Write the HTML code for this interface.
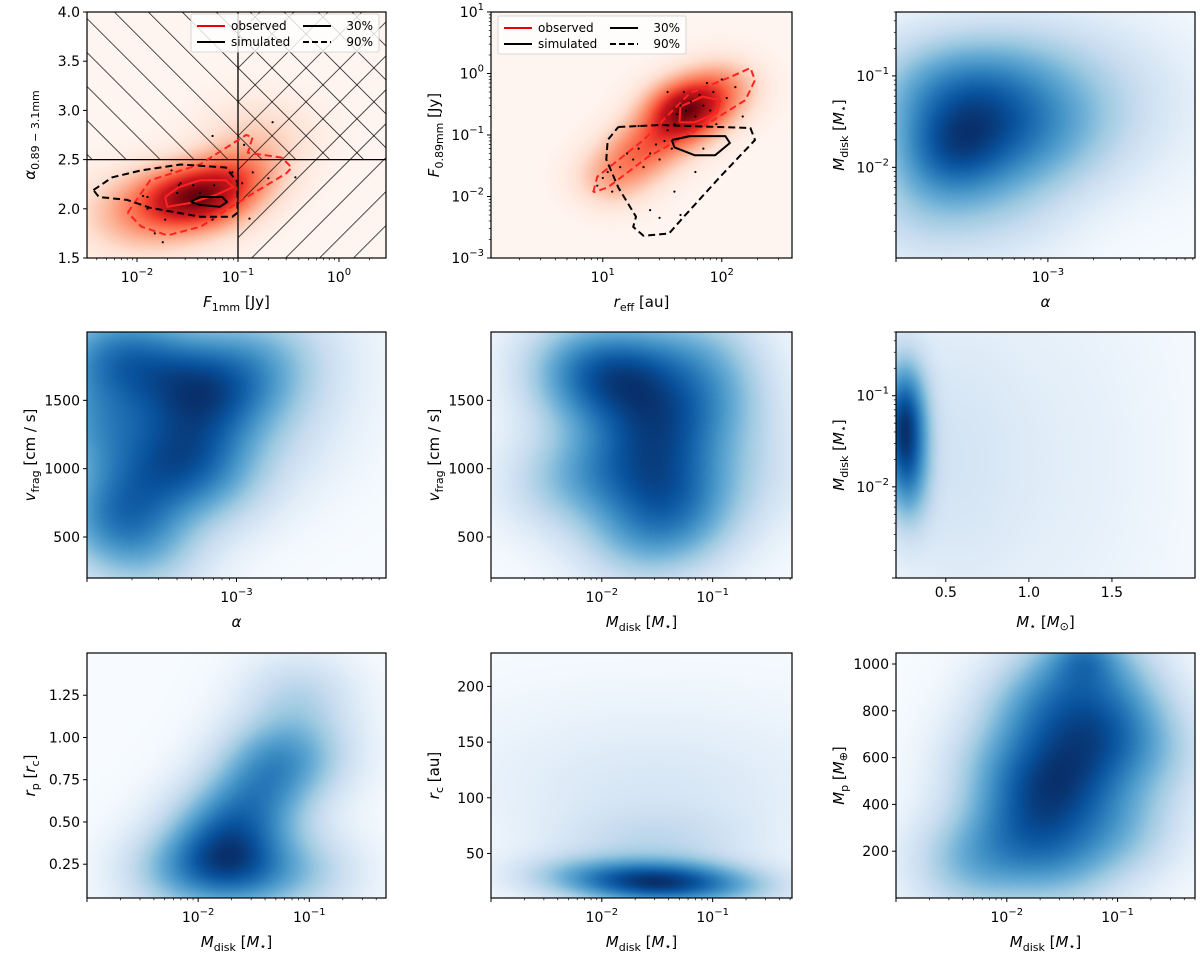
<!DOCTYPE html>
<html><head><meta charset="utf-8">
<style>
html,body{margin:0;padding:0;background:#fff;}
#wrap{position:relative;width:1200px;height:956px;overflow:hidden;font-family:"DejaVu Sans","Liberation Sans",sans-serif;}
canvas{position:absolute;}
svg{position:absolute;left:0;top:0;}
</style></head>
<body>
<div id="wrap">
<svg id="svg" width="1200" height="956" viewBox="0 0 1200 956">
<defs>
<pattern id="hatchBack" patternUnits="userSpaceOnUse" width="24" height="24" patternTransform="rotate(-45)"><line x1="0" y1="0" x2="0" y2="24" stroke="#000" stroke-width="1.4"/></pattern>
<pattern id="hatchFwd" patternUnits="userSpaceOnUse" width="24" height="24" patternTransform="rotate(45)"><line x1="0" y1="0" x2="0" y2="24" stroke="#000" stroke-width="1.4"/></pattern>
</defs>
</svg>
</div>
<script>
// ---------- data ----------
// Panel 1: F1mm vs alpha (observed density, red)
const p1BlobF=[0.03,0.07,0.015,0.12,0.16,0.05,0.01];
const p1BlobA=[2.12,2.25,2.0,2.4,2.75,2.05,1.9];
const p1BlobW=[1.0,0.8,0.5,0.4,0.25,0.55,0.3];
const p1BlobS=[1,1,1.2,1,1.2,1,1.3];
const p1Red90F=[0.0081,0.0135,0.042,0.12,0.14,0.125,0.27,0.34,0.3,0.11,0.043,0.02,0.011,0.0081];
const p1Red90A=[1.96,2.29,2.45,2.75,2.73,2.57,2.52,2.42,2.36,2.09,1.82,1.73,1.82,1.96];
const p1Red30F=[0.019,0.026,0.042,0.076,0.09,0.06,0.034,0.02,0.019];
const p1Red30A=[2.12,2.22,2.29,2.29,2.22,2.14,2.06,2.02,2.12];
const p1Blk30F=[0.034,0.042,0.07,0.078,0.066,0.042,0.034];
const p1Blk30A=[2.07,2.12,2.12,2.07,2.02,2.04,2.07];
const p1Blk90F=[0.0037,0.0057,0.011,0.027,0.076,0.099,0.099,0.088,0.042,0.0135,0.008,0.0042,0.0037];
const p1Blk90A=[2.19,2.32,2.39,2.45,2.42,2.27,1.96,1.92,1.92,2.01,2.09,2.12,2.19];
const p1PtsF=[0.056,0.22,0.026,0.022,0.0127,0.019,0.015,0.018,0.027,0.025,0.036,0.11,0.14,0.2,0.37,0.13,0.056,0.058,0.042,0.0127,0.0115,0.088,0.115];
const p1PtsA=[2.74,2.88,2.24,2.39,2.12,1.89,1.75,1.66,2.26,2.16,2.24,2.26,2.37,2.31,2.32,1.9,1.89,2.24,2.16,2.0,2.13,2.37,2.65];
// Panel 2: r_eff vs F0.89mm
const p2BlobR=[60,35,20,12,100,45];
const p2BlobF=[0.3,0.12,0.05,0.02,0.6,0.25];
const p2BlobW=[1.0,0.75,0.65,0.45,0.55,0.7];
const p2BlobS=[1,1,1,1,1,1];
const p2Red90R=[8.3,9,22,54,117,174,190,158,79,24,11,8.3];
const p2Red90F=[0.0117,0.021,0.083,0.48,0.87,1.23,0.78,0.37,0.16,0.044,0.014,0.0117];
const p2Red30R=[44,45,69,97,91,59,44];
const p2Red30F=[0.16,0.29,0.42,0.37,0.23,0.16,0.16];
const p2Blk30R=[38,54,107,117,88,59,40,38];
const p2Blk30F=[0.083,0.096,0.096,0.074,0.047,0.047,0.063,0.083];
const p2Blk90R=[13.5,30,174,190,97,48,36,22,18,19,13.5,10.7,11,13.5];
const p2Blk90F=[0.135,0.145,0.13,0.083,0.021,0.0047,0.0025,0.0023,0.0032,0.0047,0.014,0.04,0.083,0.135];
const p2PtsR=[10,9,11,12,14,16,18,20,22,25,28,30,33,35,38,40,42,45,48,50,55,60,65,70,75,80,85,90,100,110,130,150,60,40,30,25,45,70,20,35];
const p2PtsF=[0.02,0.015,0.025,0.012,0.03,0.05,0.04,0.06,0.03,0.05,0.07,0.04,0.08,0.12,0.06,0.15,0.22,0.3,0.5,0.25,0.35,0.2,0.45,0.3,0.7,0.25,0.5,0.15,0.8,0.4,0.6,0.2,0.025,0.012,0.0045,0.006,0.005,0.06,0.14,0.5];
// Panel 3: alpha vs Mdisk
const p3BlobX=[2.2e-4,4e-4,3e-4,1e-3,1.5e-4,1.6e-3,5e-4,1.5e-4,7e-4,3e-3];
const p3BlobY=[0.014,0.025,0.07,0.02,0.004,0.06,0.004,0.06,0.1,0.05];
const p3BlobW=[1.0,0.9,0.75,0.55,0.5,0.35,0.35,0.6,0.4,0.15];
const p3BlobS=[0.8,1,1,1,1,1.2,1,1,1,1.5];
// Panel 4: alpha vs vfrag
const p4BlobX=[4e-4,4.4e-4,1.5e-4,1.2e-4,7e-4,1.2e-3,2e-4,7e-4,2e-3,1.2e-4,2.5e-4,1.5e-3,2.5e-4];
const p4BlobY=[1650,1120,650,1300,1500,1750,1850,900,1850,1800,400,1300,900];
const p4BlobW=[0.9,1.0,1.0,0.9,0.8,0.6,0.7,0.5,0.3,0.7,0.55,0.3,0.6];
const p4BlobS=[1,1,1,1,1,1,1,1,1.3,1,1,1.3,1];
// Panel 5: Mdisk vs vfrag
const p5BlobX=[0.02,0.033,0.012,0.008,0.05,0.1,0.02,0.004,0.15,0.04,0.006,0.08];
const p5BlobY=[1700,1310,1000,1600,600,1500,500,900,1000,900,1800,1850];
const p5BlobW=[1.0,1.0,0.75,0.7,0.6,0.55,0.55,0.4,0.35,0.8,0.5,0.5];
const p5BlobS=[1,1,1,1,1,1,1,1,1.2,1,1,1];
// Panel 6: Mstar vs Mdisk
const p6BlobX=[0.25,0.27,0.25,0.5,0.9,1.4];
const p6BlobY=[0.04,0.012,0.1,0.02,0.02,0.02];
const p6BlobW=[1.0,0.6,0.5,0.12,0.06,0.04];
const p6BlobS=[1,1,1,3,4,4];
// Panel 7: Mdisk vs rp
const p7BlobX=[0.016,0.03,0.05,0.08,0.006,0.1,0.03,0.015,0.04,0.1];
const p7BlobY=[0.27,0.55,0.9,1.25,0.2,0.2,0.2,0.5,0.75,0.9];
const p7BlobW=[1.0,0.65,0.55,0.45,0.6,0.45,0.7,0.5,0.55,0.35];
const p7BlobS=[1,1,1,1,1,1,1,1,1,1];
// Panel 8: Mdisk vs rc
const p8BlobX=[0.02,0.05,0.006,0.15,0.03,0.03,0.03];
const p8BlobY=[24,24,30,20,60,100,150];
const p8BlobW=[1.0,0.9,0.5,0.45,0.3,0.15,0.08];
const p8BlobS=[1,1,1,1,1.5,2.5,3];
// Panel 9: Mdisk vs Mp
const p9BlobX=[0.03,0.02,0.05,0.005,0.1,0.015,0.1,0.03,0.01,0.2,0.06,0.05];
const p9BlobY=[480,800,1000,150,300,300,800,150,550,600,650,1030];
const p9BlobW=[1.0,0.8,0.8,0.7,0.6,0.8,0.6,0.6,0.6,0.4,0.8,0.4];
const p9BlobS=[1,1,1,1,1,1,1,1,1,1,1,0.5];

// ---------- helpers ----------
const NS="http://www.w3.org/2000/svg";
const svg=document.getElementById('svg');
const wrap=document.getElementById('wrap');
function el(tag,attrs,parent){const e=document.createElementNS(NS,tag);for(const k in attrs)e.setAttribute(k,attrs[k]);(parent||svg).appendChild(e);return e;}
function scale(type,min,max,p0,p1){
  if(type==='log'){const a=Math.log10(min),b=Math.log10(max);const f=v=>p0+(Math.log10(v)-a)/(b-a)*(p1-p0);f.frac=v=>(Math.log10(v)-a)/(b-a);return f;}
  const f=v=>p0+(v-min)/(max-min)*(p1-p0);f.frac=v=>(v-min)/(max-min);return f;
}
const BLUES=[[247,251,255],[222,235,247],[198,219,239],[158,202,225],[107,174,214],[66,146,198],[33,113,181],[8,81,156],[8,48,107]];
const REDS=[[255,245,240],[254,224,210],[252,187,161],[252,146,114],[251,106,74],[239,59,44],[203,24,29],[165,15,21],[103,0,13]];
function cmap(c,t){t=Math.max(0,Math.min(1,t));const x=t*(c.length-1);const i=Math.min(c.length-2,Math.floor(x));const f=x-i;return [0,1,2].map(k=>Math.round(c[i][k]+(c[i+1][k]-c[i][k])*f));}

function density(name,box,sx,sy,bx,by,bw,bs,sigU,sigV,cm,gamma){
  const [x0,y0,x1,y1]=box;const W=x1-x0,H=y1-y0;
  const cv=document.createElement('canvas');cv.width=W;cv.height=H;
  cv.style.left=x0+'px';cv.style.top=y0+'px';
  
  
  wrap.insertBefore(cv,svg);
  const ctx=cv.getContext('2d');const img=ctx.createImageData(W,H);
  const bu=bx.map(v=>sx.frac(v)),bv=by.map(v=>sy.frac(v));
  const vals=new Float32Array(W*H);let mx=0;
  for(let j=0;j<H;j++){const v=1-(j+0.5)/H;for(let i=0;i<W;i++){const u=(i+0.5)/W;let d=0;
    for(let k=0;k<bu.length;k++){const du=(u-bu[k])/(sigU*bs[k]),dv=(v-bv[k])/(sigV*bs[k]);d+=bw[k]*Math.exp(-0.5*(du*du+dv*dv));}
    vals[j*W+i]=d;if(d>mx)mx=d;}}
  for(let p=0;p<W*H;p++){const c=cmap(cm,Math.pow(vals[p]/mx,gamma));img.data[p*4]=c[0];img.data[p*4+1]=c[1];img.data[p*4+2]=c[2];img.data[p*4+3]=255;}
  ctx.putImageData(img,0,0);
}
function supLabel(g,x,y,base,exp,anchor,name){
  const t=el('text',{x:x,y:y,'text-anchor':anchor||'middle','font-size':14,fill:'#000'},g);
  
  
  const a=el('tspan',{},t);a.textContent=base;
  const b=el('tspan',{dy:-7,'font-size':10},t);b.textContent=exp;
  return t;
}
function axes(pfx,box,sx,sy,xt,yt){
  const [x0,y0,x1,y1]=box;
  const g=el('g',{});
  
  
  if(xt.type==='log'){
    for(let e=xt.e0;e<=xt.e1;e++){for(let m=1;m<10;m++){const v=m*Math.pow(10,e);const X=sx(v);if(X<x0-0.5||X>x1+0.5)continue;
      const major=m===1;el('line',{x1:X,y1:y1,x2:X,y2:y1+(major?4:2.2),stroke:'#000','stroke-width':major?1:0.7},g);
      if(major&&xt.labels.includes(e)){supLabel(g,X,y1+24,'10',(e<0?'\u2212':'')+Math.abs(e),'middle',pfx+'-xtick-label');}}}
  } else {
    xt.vals.forEach((v,i)=>{const X=sx(v);el('line',{x1:X,y1:y1,x2:X,y2:y1+4,stroke:'#000'},g);
      const t=el('text',{x:X,y:y1+19,'text-anchor':'middle','font-size':14},g);t.textContent=xt.text[i];
      });
  }
  if(yt.type==='log'){
    for(let e=yt.e0;e<=yt.e1;e++){for(let m=1;m<10;m++){const v=m*Math.pow(10,e);const Y=sy(v);if(Y<y0-0.5||Y>y1+0.5)continue;
      const major=m===1;el('line',{x1:x0,y1:Y,x2:x0-(major?4:2.2),y2:Y,stroke:'#000','stroke-width':major?1:0.7},g);
      if(major&&yt.labels.includes(e)){supLabel(g,x0-7,Y+5,'10',(e<0?'\u2212':'')+Math.abs(e),'end',pfx+'-ytick-label');}}}
  } else {
    yt.vals.forEach((v,i)=>{const Y=sy(v);el('line',{x1:x0,y1:Y,x2:x0-4,y2:Y,stroke:'#000'},g);
      const t=el('text',{x:x0-7,y:Y+5,'text-anchor':'end','font-size':14},g);t.textContent=yt.text[i];
      });
  }
  const r=el('rect',{x:x0,y:y0,width:x1-x0,height:y1-y0,fill:'none',stroke:'#000','stroke-width':1.2},g);
  
  return g;
}
function axLabel(box,which,html,name){
  const [x0,y0,x1,y1]=box;
  const g=el('g',{});
  let t;
  if(which==='x'){t=el('text',{x:(x0+x1)/2,y:y1+49,'text-anchor':'middle','font-size':15},g);}
  else {const cx=x0-52,cy=(y0+y1)/2;t=el('text',{x:cx,y:cy,'text-anchor':'middle','font-size':15,transform:`rotate(-90 ${cx} ${cy})`},g);}
  t.innerHTML=html;
  
  
}
function pathFrom(sx,sy,xs,ys,attrs,name,clip){
  const d=xs.map((v,i)=>(i?'L':'M')+sx(v).toFixed(1)+' '+sy(ys[i]).toFixed(1)).join(' ');
  const p=el('path',Object.assign({d:d,fill:'none','stroke-linejoin':'round'},attrs));
  if(clip)p.setAttribute('clip-path',clip);
  
  
}
function points(sx,sy,xs,ys,name){
  const g=el('g',{});
  
  
  xs.forEach((v,i)=>{const c=el('circle',{cx:sx(v),cy:sy(ys[i]),r:1.1,fill:'#000'},g);
    
    });
}
function legend(x,y,name){
  const g=el('g',{});
  
  
  el('rect',{x:x,y:y,width:188,height:38,fill:'#fff','fill-opacity':0.8,stroke:'#ccc','stroke-width':0.8,rx:2},g);
  const items=[[0,0,'#e00','none','observed'],[0,1,'#000','none','simulated'],[1,0,'#000','none','30%'],[1,1,'#000','6 3','90%']];
  items.forEach(it=>{const lx=x+6+it[0]*106,ly=y+12+it[1]*16;
    const ln=el('line',{x1:lx,y1:ly,x2:lx+28,y2:ly,stroke:it[2],'stroke-width':2,'stroke-dasharray':it[3]},g);
    
    const t=el('text',{x:it[0]?lx+70:lx+34,y:ly+4,'font-size':12,'text-anchor':it[0]?'end':'start'},g);t.textContent=it[4];
    });
}

// ---------- layout ----------
const COLS=[[87,386],[491,792],[896,1195]];
const ROWS=[[12,258],[332,578],[653,898]];
const B=(c,r)=>[COLS[c][0],ROWS[r][0],COLS[c][1],ROWS[r][1]];
const MD='<tspan font-style="italic">M</tspan><tspan font-size="11" dy="4">disk</tspan><tspan dy="-4"> [</tspan><tspan font-style="italic">M</tspan><tspan font-size="11" dy="3">\u22c6</tspan><tspan dy="-3">]</tspan>';
const VF='<tspan font-style="italic">v</tspan><tspan font-size="11" dy="4">frag</tspan><tspan dy="-4"> [cm / s]</tspan>';

// Panel 1
{const b=B(0,0);const sx=scale('log',0.0032,2.92,b[0],b[2]);const sy=scale('lin',1.5,4.0,b[3],b[1]);
 density('p1-density',b,sx,sy,p1BlobF,p1BlobA,p1BlobW,p1BlobS,0.1,0.08,REDS,0.85);
 const cp=el('clipPath',{id:'c1'});el('rect',{x:b[0],y:b[1],width:b[2]-b[0],height:b[3]-b[1]},cp);
 const h1=el('rect',{x:b[0],y:b[1],width:b[2]-b[0],height:sy(2.5)-b[1],fill:'url(#hatchBack)'});
 const h2=el('rect',{x:sx(0.1),y:b[1],width:b[2]-sx(0.1),height:b[3]-b[1],fill:'url(#hatchFwd)'});
 el('line',{x1:b[0],y1:sy(2.5),x2:b[2],y2:sy(2.5),stroke:'#000','stroke-width':1.3});
 el('line',{x1:sx(0.1),y1:b[1],x2:sx(0.1),y2:b[3],stroke:'#000','stroke-width':1.3});
 pathFrom(sx,sy,p1Red90F,p1Red90A,{stroke:'#f22','stroke-width':2,'stroke-dasharray':'7 4'},'observed-90-contour','url(#c1)');
 pathFrom(sx,sy,p1Red30F,p1Red30A,{stroke:'#f22','stroke-width':2},'observed-30-contour');
 pathFrom(sx,sy,p1Blk90F,p1Blk90A,{stroke:'#000','stroke-width':2,'stroke-dasharray':'7 4'},'simulated-90-contour');
 pathFrom(sx,sy,p1Blk30F,p1Blk30A,{stroke:'#000','stroke-width':2},'simulated-30-contour');
 points(sx,sy,p1PtsF,p1PtsA,'p1-observed-points');
 legend(191,14,'p1-legend');
 axes('p1',b,sx,sy,{type:'log',e0:-3,e1:0,labels:[-2,-1,0]},{type:'lin',vals:[1.5,2,2.5,3,3.5,4],text:['1.5','2.0','2.5','3.0','3.5','4.0']});
 axLabel(b,'x','<tspan font-style="italic">F</tspan><tspan font-size="11" dy="4">1mm</tspan><tspan dy="-4"> [Jy]</tspan>','p1-x-axis-title');
 axLabel(b,'y','<tspan font-style="italic">α</tspan><tspan font-size="11" dy="4">0.89 \u2212 3.1mm</tspan>','p1-y-axis-title');
}
// Panel 2
{const b=B(1,0);const sx=scale('log',1.15,389,b[0],b[2]);const sy=scale('log',1e-3,10,b[3],b[1]);
 density('p2-density',b,sx,sy,p2BlobR,p2BlobF,p2BlobW,p2BlobS,0.08,0.075,REDS,0.85);
 pathFrom(sx,sy,p2Red90R,p2Red90F,{stroke:'#f22','stroke-width':2,'stroke-dasharray':'7 4'},'observed-90-contour');
 pathFrom(sx,sy,p2Red30R,p2Red30F,{stroke:'#f22','stroke-width':2},'observed-30-contour');
 pathFrom(sx,sy,p2Blk90R,p2Blk90F,{stroke:'#000','stroke-width':2,'stroke-dasharray':'7 4'},'simulated-90-contour');
 pathFrom(sx,sy,p2Blk30R,p2Blk30F,{stroke:'#000','stroke-width':2},'simulated-30-contour');
 points(sx,sy,p2PtsR,p2PtsF,'p2-observed-points');
 legend(b[0]+7,b[1]+4,'p2-legend');
 axes('p2',b,sx,sy,{type:'log',e0:0,e1:2,labels:[1,2]},{type:'log',e0:-3,e1:1,labels:[-3,-2,-1,0,1]});
 axLabel(b,'x','<tspan font-style="italic">r</tspan><tspan font-size="11" dy="4">eff</tspan><tspan dy="-4"> [au]</tspan>','p2-x-axis-title');
 axLabel(b,'y','<tspan font-style="italic">F</tspan><tspan font-size="11" dy="4">0.89mm</tspan><tspan dy="-4"> [Jy]</tspan>','p2-y-axis-title');
}
// Panel 3
{const b=B(2,0);const sx=scale('log',1e-4,0.0093,b[0],b[2]);const sy=scale('log',0.00102,0.5,b[3],b[1]);
 density('p3-density',b,sx,sy,p3BlobX,p3BlobY,p3BlobW,p3BlobS,0.16,0.16,BLUES,0.8);
 axes('p3',b,sx,sy,{type:'log',e0:-4,e1:-3,labels:[-3]},{type:'log',e0:-3,e1:-1,labels:[-2,-1]});
 axLabel(b,'x','<tspan font-style="italic">α</tspan>','p3-x-axis-title');
 axLabel(b,'y',MD,'p3-y-axis-title');
}
// Panel 4
{const b=B(0,1);const sx=scale('log',1e-4,0.01,b[0],b[2]);const sy=scale('lin',200,2000,b[3],b[1]);
 density('p4-density',b,sx,sy,p4BlobX,p4BlobY,p4BlobW,p4BlobS,0.14,0.14,BLUES,0.8);
 axes('p4',b,sx,sy,{type:'log',e0:-4,e1:-3,labels:[-3]},{type:'lin',vals:[500,1000,1500],text:['500','1000','1500']});
 axLabel(b,'x','<tspan font-style="italic">α</tspan>','p4-x-axis-title');
 axLabel(b,'y',VF,'p4-y-axis-title');
}
// Panel 5
{const b=B(1,1);const sx=scale('log',1e-3,0.52,b[0],b[2]);const sy=scale('lin',200,2000,b[3],b[1]);
 density('p5-density',b,sx,sy,p5BlobX,p5BlobY,p5BlobW,p5BlobS,0.14,0.14,BLUES,0.8);
 axes('p5',b,sx,sy,{type:'log',e0:-3,e1:-1,labels:[-2,-1]},{type:'lin',vals:[500,1000,1500],text:['500','1000','1500']});
 axLabel(b,'x',MD,'p5-x-axis-title');
 axLabel(b,'y',VF,'p5-y-axis-title');
}
// Panel 6
{const b=B(2,1);const sx=scale('lin',0.2,2.0,b[0],b[2]);const sy=scale('log',0.001,0.5,b[3],b[1]);
 density('p6-density',b,sx,sy,p6BlobX,p6BlobY,p6BlobW,p6BlobS,0.05,0.14,BLUES,0.75);
 axes('p6',b,sx,sy,{type:'lin',vals:[0.5,1.0,1.5],text:['0.5','1.0','1.5']},{type:'log',e0:-3,e1:-1,labels:[-2,-1]});
 axLabel(b,'x','<tspan font-style="italic">M</tspan><tspan font-size="11" dy="3">\u22c6</tspan><tspan dy="-3"> [</tspan><tspan font-style="italic">M</tspan><tspan font-size="11" dy="3">\u2299</tspan><tspan dy="-3">]</tspan>','p6-x-axis-title');
 axLabel(b,'y',MD,'p6-y-axis-title');
}
// Panel 7
{const b=B(0,2);const sx=scale('log',1e-3,0.49,b[0],b[2]);const sy=scale('lin',0.05,1.5,b[3],b[1]);
 density('p7-density',b,sx,sy,p7BlobX,p7BlobY,p7BlobW,p7BlobS,0.13,0.12,BLUES,0.85);
 axes('p7',b,sx,sy,{type:'log',e0:-3,e1:-1,labels:[-2,-1]},{type:'lin',vals:[0.25,0.5,0.75,1.0,1.25],text:['0.25','0.50','0.75','1.00','1.25']});
 axLabel(b,'x',MD,'p7-x-axis-title');
 axLabel(b,'y','<tspan font-style="italic">r</tspan><tspan font-size="11" dy="4">p</tspan><tspan dy="-4"> [</tspan><tspan font-style="italic">r</tspan><tspan font-size="11" dy="4">c</tspan><tspan dy="-4">]</tspan>','p7-y-axis-title');
}
// Panel 8
{const b=B(1,2);const sx=scale('log',1e-3,0.52,b[0],b[2]);const sy=scale('lin',10,230,b[3],b[1]);
 density('p8-density',b,sx,sy,p8BlobX,p8BlobY,p8BlobW,p8BlobS,0.15,0.06,BLUES,0.8);
 axes('p8',b,sx,sy,{type:'log',e0:-3,e1:-1,labels:[-2,-1]},{type:'lin',vals:[50,100,150,200],text:['50','100','150','200']});
 axLabel(b,'x',MD,'p8-x-axis-title');
 axLabel(b,'y','<tspan font-style="italic">r</tspan><tspan font-size="11" dy="4">c</tspan><tspan dy="-4"> [au]</tspan>','p8-y-axis-title');
}
// Panel 9
{const b=B(2,2);const sx=scale('log',1e-3,0.5,b[0],b[2]);const sy=scale('lin',0,1047,b[3],b[1]);
 density('p9-density',b,sx,sy,p9BlobX,p9BlobY,p9BlobW,p9BlobS,0.14,0.14,BLUES,0.8);
 axes('p9',b,sx,sy,{type:'log',e0:-3,e1:-1,labels:[-2,-1]},{type:'lin',vals:[200,400,600,800,1000],text:['200','400','600','800','1000']});
 axLabel(b,'x',MD,'p9-x-axis-title');
 axLabel(b,'y','<tspan font-style="italic">M</tspan><tspan font-size="11" dy="4">p</tspan><tspan dy="-4"> [</tspan><tspan font-style="italic">M</tspan><tspan font-size="11" dy="3">\u2295</tspan><tspan dy="-3">]</tspan>','p9-y-axis-title');
}
</script>
</body></html>
